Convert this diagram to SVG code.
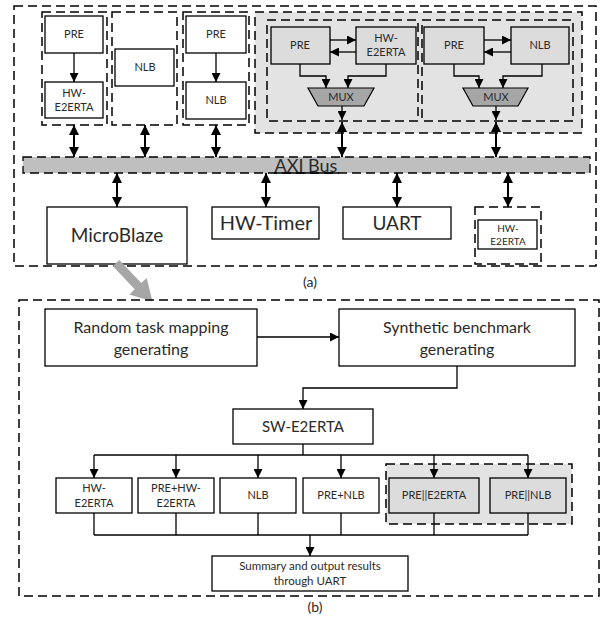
<svg xmlns="http://www.w3.org/2000/svg" width="602" height="623" viewBox="0 0 602 623">
<defs>
<marker id="ah" markerUnits="userSpaceOnUse" markerWidth="9" markerHeight="9" viewBox="0 0 10 10" refX="10" refY="5" orient="auto-start-reverse"><path d="M0,0 L10,5 L0,10 z" fill="#000"/></marker>
<marker id="ah2" markerUnits="userSpaceOnUse" markerWidth="10" markerHeight="10" viewBox="0 0 10 10" refX="10" refY="5" orient="auto-start-reverse"><path d="M0,0 L10,5 L0,10 z" fill="#000"/></marker>
</defs>
<style>
text{font-family:Lato,"Liberation Sans",sans-serif;fill:#2a2a2a;text-anchor:middle}
.dash{fill:none;stroke:#000;stroke-width:1.5;stroke-dasharray:9,5}
.box{fill:#fff;stroke:#000;stroke-width:1.3}
.gbox{fill:#dcdcdc;stroke:#000;stroke-width:1.3}
.s{font-size:11px}
.m{font-size:16px}
.c{fill:none;stroke:#000;stroke-width:1.3}
.a{fill:none;stroke:#000;stroke-width:1.3;marker-end:url(#ah)}
.d{fill:none;stroke:#000;stroke-width:2;marker-end:url(#ah2);marker-start:url(#ah2)}
</style>
<rect width="602" height="623" fill="#fff"/>

<!-- (a) -->
<g id="frameA"><rect class="dash" x="14" y="6" width="582" height="260"/></g>

<g id="grp1">
<rect class="dash" x="42" y="12" width="65" height="113"/>
<rect class="box" x="45" y="16" width="58" height="37"/>
<text class="s" x="74" y="38">PRE</text>
<rect class="box" x="45" y="82" width="58" height="36"/>
<text class="s" x="74" y="97">HW-</text>
<text class="s" x="74" y="111">E2ERTA</text>
</g>
<g id="grp2">
<rect class="dash" x="112" y="12" width="65" height="113"/>
<rect class="box" x="115" y="49" width="59" height="37"/>
<text class="s" x="145" y="71">NLB</text>
</g>
<g id="grp3">
<rect class="dash" x="183" y="12" width="66" height="113"/>
<rect class="box" x="186" y="16" width="60" height="37"/>
<text class="s" x="216" y="38">PRE</text>
<rect class="box" x="186" y="82" width="60" height="37"/>
<text class="s" x="216" y="104">NLB</text>
</g>
<g id="grp4">
<rect x="255" y="12" width="327" height="121" fill="#e3e3e3" stroke="#000" stroke-width="1.5" stroke-dasharray="9,5"/>
<rect class="dash" x="267" y="20" width="151" height="101"/>
<rect class="dash" x="422" y="20" width="151" height="101"/>
<rect class="gbox" x="271" y="27" width="59" height="37"/>
<text class="s" x="300" y="49">PRE</text>
<rect class="gbox" x="356" y="27" width="60" height="37"/>
<text class="s" x="386" y="42">HW-</text>
<text class="s" x="386" y="56">E2ERTA</text>
<polygon points="308,88 374,88 364,106 318,106" fill="#a6a6a6" stroke="#000" stroke-width="1.2"/>
<text class="s" x="341" y="101">MUX</text>
<rect class="gbox" x="424" y="27" width="60" height="37"/>
<text class="s" x="454" y="49">PRE</text>
<rect class="gbox" x="511" y="27" width="58" height="37"/>
<text class="s" x="540" y="49">NLB</text>
<polygon points="463,88 528,88 518,106 473,106" fill="#a6a6a6" stroke="#000" stroke-width="1.2"/>
<text class="s" x="496" y="101">MUX</text>
</g>

<g id="bus">
<rect x="23" y="157" width="567" height="16" fill="#bfbfbf" stroke="#000" stroke-width="1.3" stroke-dasharray="9,5"/>
<line x1="274" y1="173" x2="339" y2="173" stroke="#000" stroke-width="1.3"/>
<text x="306" y="172" style="font-size:18px">AXI Bus</text>
</g>

<g id="microblaze"><rect class="box" x="47" y="207" width="140" height="57"/><text x="117" y="242" style="font-size:19px">MicroBlaze</text></g>
<g id="hwtimer"><rect class="box" x="212" y="207" width="107" height="32"/><text x="266" y="230" style="font-size:20px">HW-Timer</text></g>
<g id="uart"><rect class="box" x="343" y="207" width="108" height="32"/><text x="397" y="230" style="font-size:19px">UART</text></g>
<g id="hwe2"><rect class="dash" x="475" y="207" width="66" height="57"/><rect class="box" x="478" y="220" width="59" height="29"/><text x="508" y="232" style="font-size:10px">HW-</text><text x="508" y="245" style="font-size:10px">E2ERTA</text></g>

<text x="310" y="287" style="font-size:14px">(a)</text>

<g id="connectorsA">
<line class="a" x1="74" y1="53" x2="74" y2="82"/>
<line class="a" x1="216" y1="53" x2="216" y2="82"/>
<line class="a" x1="330" y1="40" x2="356" y2="40"/>
<line class="a" x1="356" y1="52" x2="330" y2="52"/>
<line class="a" x1="484" y1="40" x2="511" y2="40"/>
<line class="a" x1="511" y1="52" x2="484" y2="52"/>
<polyline class="a" points="300,64 300,76 326,76 326,88"/>
<polyline class="a" points="386,64 386,76 348,76 348,88"/>
<polyline class="a" points="454,64 454,76 479,76 479,88"/>
<polyline class="a" points="542,64 542,76 503,76 503,88"/>
<line class="a" x1="342" y1="106" x2="342" y2="120"/>
<line class="a" x1="496" y1="106" x2="496" y2="120"/>
<line class="d" x1="74" y1="125" x2="74" y2="157"/>
<line class="d" x1="145" y1="125" x2="145" y2="157"/>
<line class="d" x1="216" y1="125" x2="216" y2="157"/>
<line class="d" x1="342" y1="122" x2="342" y2="157"/>
<line class="d" x1="496" y1="122" x2="496" y2="157"/>
<line class="d" x1="117" y1="173" x2="117" y2="207"/>
<line class="d" x1="266" y1="173" x2="266" y2="207"/>
<line class="d" x1="397" y1="173" x2="397" y2="207"/>
<line class="d" x1="508" y1="173" x2="508" y2="207"/>
<polygon transform="translate(116,263) rotate(46.5)" points="0,-4.5 32,-4.5 32,-12 53,0 32,12 32,4.5 0,4.5" fill="#a6a6a6"/>
</g>

<!-- (b) -->
<g id="frameB"><rect class="dash" x="19" y="300" width="580" height="296"/></g>
<g id="random"><rect class="box" x="45" y="309" width="212" height="57"/><text class="m" x="151" y="333">Random task mapping</text><text class="m" x="151" y="355">generating</text></g>
<g id="synthetic"><rect class="box" x="339" y="309" width="236" height="57"/><text class="m" x="457" y="333">Synthetic benchmark</text><text class="m" x="457" y="355">generating</text></g>
<g id="swe2"><rect class="box" x="233" y="409" width="140" height="35"/><text x="303" y="432" style="font-size:15px">SW-E2ERTA</text></g>
<g id="grayB"><rect x="386" y="464" width="186" height="60" fill="#e3e3e3" stroke="#000" stroke-width="1.5" stroke-dasharray="9,5"/></g>
<g id="b1"><rect class="box" x="56" y="478" width="76" height="35"/><text class="s" x="94" y="492">HW-</text><text class="s" x="94" y="507">E2ERTA</text></g>
<g id="b2"><rect class="box" x="138" y="478" width="76" height="35"/><text class="s" x="176" y="492">PRE+HW-</text><text class="s" x="176" y="507">E2ERTA</text></g>
<g id="b3"><rect class="box" x="220" y="478" width="76" height="35"/><text class="s" x="258" y="499">NLB</text></g>
<g id="b4"><rect class="box" x="303" y="478" width="76" height="35"/><text class="s" x="341" y="499">PRE+NLB</text></g>
<g id="b5"><rect class="gbox" x="389" y="478" width="90" height="35"/><text class="s" x="434" y="499">PRE||E2ERTA</text></g>
<g id="b6"><rect class="gbox" x="490" y="478" width="76" height="35"/><text class="s" x="528" y="499">PRE||NLB</text></g>
<g id="summary"><rect class="box" x="212" y="556" width="196" height="35"/><text x="310" y="570" style="font-size:11.5px">Summary and output results</text><text x="310" y="585" style="font-size:11.5px">through UART</text></g>
<text x="315" y="612" style="font-size:14px">(b)</text>

<g id="connectorsB">
<line class="a" x1="257" y1="337" x2="339" y2="337"/>
<polyline class="a" points="457,366 457,388 303,388 303,409"/>
<line class="c" x1="303" y1="444" x2="303" y2="455"/>
<line class="c" x1="94" y1="455" x2="528" y2="455"/>
<line class="a" x1="94" y1="455" x2="94" y2="478"/>
<line class="a" x1="176" y1="455" x2="176" y2="478"/>
<line class="a" x1="258" y1="455" x2="258" y2="478"/>
<line class="a" x1="341" y1="455" x2="341" y2="478"/>
<line class="a" x1="434" y1="455" x2="434" y2="478"/>
<line class="a" x1="528" y1="455" x2="528" y2="478"/>
<line class="c" x1="94" y1="513" x2="94" y2="535"/>
<line class="c" x1="176" y1="513" x2="176" y2="535"/>
<line class="c" x1="258" y1="513" x2="258" y2="535"/>
<line class="c" x1="341" y1="513" x2="341" y2="535"/>
<line class="c" x1="434" y1="513" x2="434" y2="535"/>
<line class="c" x1="528" y1="513" x2="528" y2="535"/>
<line class="c" x1="94" y1="535" x2="528" y2="535"/>
<line class="a" x1="310" y1="535" x2="310" y2="556"/>
</g>
</svg>
